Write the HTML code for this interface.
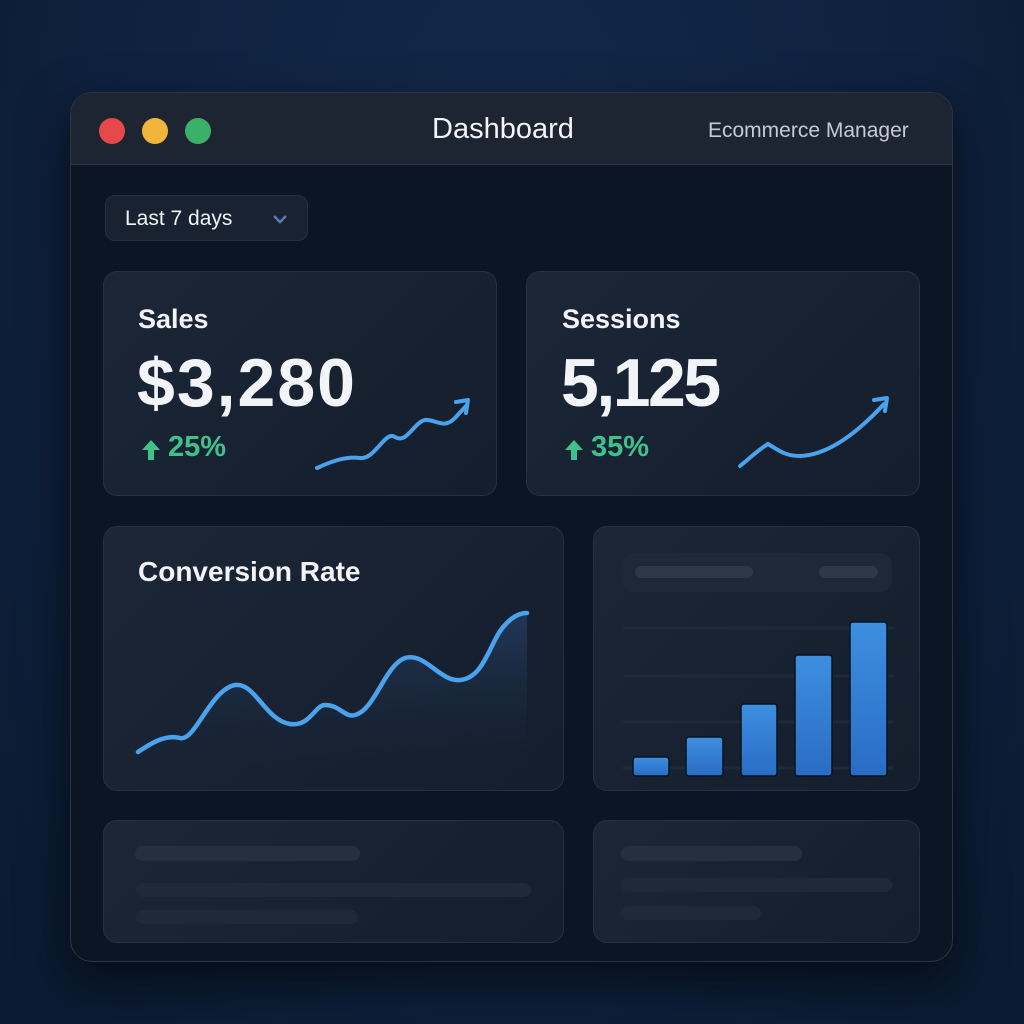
<!DOCTYPE html><html><head><style>
body{margin:0;width:1024px;height:1024px;overflow:hidden;background:radial-gradient(ellipse at 50% 20%,#13294a 0%,#0f2240 50%,#0b1a30 100%);font-family:"Liberation Sans",sans-serif;position:relative}
.a{position:absolute}
.win{left:70px;top:92px;width:883px;height:870px;border-radius:22px;background:#0c1523;box-shadow:0 20px 50px rgba(0,0,0,.6);overflow:hidden;border:1px solid #2a3545;box-sizing:border-box}
.tb{left:0;top:0;width:100%;height:71px;background:#1d2532;border-bottom:1px solid #2b3442}
.dot{width:26px;height:26px;border-radius:50%;top:25px}
.card{background:linear-gradient(135deg,#1b2637,#141e2c);border:1px solid #253143;border-radius:14px;box-sizing:border-box}
.pill{background:#252f3e;border-radius:8px;height:12px}
.t{color:#f2f4f7}
.h{font-weight:bold;font-size:27px}
.big{font-size:68px;font-weight:bold}
.pct{font-size:29px;color:#3fc28a;font-weight:bold}
</style></head><body>
<div class="a win">
<div class="a tb"></div>
<div class="a dot" style="left:28px;background:#e5494b"></div>
<div class="a dot" style="left:71px;background:#f1b53c"></div>
<div class="a dot" style="left:114px;background:#3bb068"></div>
<div class="a t" style="left:361px;top:20px;font-size:29px">Dashboard</div>
<div class="a" style="left:637px;top:26px;font-size:21px;color:#c5cbd4">Ecommerce Manager</div>
</div>
<div class="a card" style="left:105px;top:195px;width:203px;height:46px;border-radius:10px;background:#182231"></div>
<div class="a t" style="left:125px;top:207px;font-size:21px">Last 7 days</div>
<svg class="a" style="left:272px;top:213px" width="16" height="12"><path d="M2 3l6 6 6-6" stroke="#5a7bb0" stroke-width="2.5" fill="none"/></svg>

<div class="a card" style="left:103px;top:271px;width:394px;height:225px"></div>
<div class="a card" style="left:526px;top:271px;width:394px;height:225px"></div>
<div class="a t h" style="left:138px;top:304px">Sales</div>
<div class="a t big" style="left:137px;top:344px;letter-spacing:2px">$3,280</div>
<div class="a pct" style="left:168px;top:431px">25%</div>
<div class="a t h" style="left:562px;top:304px">Sessions</div>
<div class="a t big" style="left:561px;top:344px;letter-spacing:-2.5px">5,125</div>
<div class="a pct" style="left:591px;top:431px">35%</div>
<svg class="a" style="left:0;top:0" width="1024" height="1024">
<g fill="#3fc28a"><path d="M151 440l-9 10h6v10h6v-10h6z"/><path d="M574 440l-9 10h6v10h6v-10h6z"/></g>
<path d="M317 468C330 462 345 456 360 458C375 460 385 430 395 437C408 445 415 418 428 420C440 422 445 428 455 418L466 406" stroke="#4aa3ec" stroke-width="4" fill="none" stroke-linecap="round"/>
<path d="M456 402L468 400L466 413" stroke="#4aa3ec" stroke-width="4" fill="none" stroke-linecap="round" stroke-linejoin="round"/>
</svg>

<div class="a card" style="left:103px;top:526px;width:461px;height:265px"></div>
<div class="a t h" style="left:138px;top:556px;font-size:28px">Conversion Rate</div>
<div class="a card" style="left:593px;top:526px;width:327px;height:265px"></div>
<div class="a" style="left:622px;top:553px;width:270px;height:39px;border-radius:12px;background:#1d2838"></div>
<div class="a pill" style="left:635px;top:566px;width:118px;background:#2d3848"></div>
<div class="a pill" style="left:819px;top:566px;width:59px;background:#2d3848"></div>

<div class="a card" style="left:103px;top:820px;width:461px;height:123px"></div>
<div class="a pill" style="left:135px;top:846px;width:225px;height:15px"></div>
<div class="a pill" style="left:136px;top:883px;width:395px;height:14px;background:#1f2937"></div>
<div class="a pill" style="left:136px;top:910px;width:222px;height:14px;background:#1f2937"></div>
<div class="a card" style="left:593px;top:820px;width:327px;height:123px"></div>
<div class="a pill" style="left:621px;top:846px;width:181px;height:15px"></div>
<div class="a pill" style="left:621px;top:878px;width:271px;height:14px;background:#1f2937"></div>
<div class="a pill" style="left:621px;top:906px;width:140px;height:14px;background:#1f2937"></div>

<svg class="a" style="left:0;top:0" width="1024" height="1024">
<defs><linearGradient id="f" x1="0" y1="0" x2="0" y2="1"><stop offset="0" stop-color="#2a4a7a" stop-opacity=".55"/><stop offset="1" stop-color="#1a2a40" stop-opacity="0"/></linearGradient>
<linearGradient id="b" x1="0" y1="0" x2="0" y2="1"><stop offset="0" stop-color="#3d8fe0"/><stop offset="1" stop-color="#2a6cc4"/></linearGradient></defs>
<path d="M138 752C150 744 165 734 180 738C195 742 210 690 235 685C255 682 265 720 290 724C310 727 315 705 325 705C340 705 345 718 355 715C375 710 385 665 405 658C425 652 440 682 460 680C485 678 490 640 505 625C512 617 520 613 527 613L527 770L138 770Z" fill="url(#f)"/>
<path d="M138 752C150 744 165 734 180 738C195 742 210 690 235 685C255 682 265 720 290 724C310 727 315 705 325 705C340 705 345 718 355 715C375 710 385 665 405 658C425 652 440 682 460 680C485 678 490 640 505 625C512 617 520 613 527 613" stroke="#4aa3ec" stroke-width="4.5" fill="none" stroke-linecap="round"/>
<path d="M740 466C750 458 758 450 768 444C778 450 785 456 800 456C830 455 860 430 884 404" stroke="#4aa3ec" stroke-width="4" fill="none" stroke-linecap="round"/>
<path d="M874 400L887 398L885 411" stroke="#4aa3ec" stroke-width="4" fill="none" stroke-linecap="round" stroke-linejoin="round"/>
<g stroke="#1f2a39" stroke-width="3"><line x1="623" y1="628" x2="893" y2="628"/><line x1="623" y1="676" x2="893" y2="676"/><line x1="623" y1="722" x2="893" y2="722"/><line x1="623" y1="768" x2="893" y2="768"/></g>
<g fill="url(#b)" stroke="#0a1220" stroke-width="1.5">
<rect x="633" y="757" width="36" height="19" rx="3"/>
<rect x="686" y="737" width="37" height="39" rx="3"/>
<rect x="741" y="704" width="36" height="72" rx="3"/>
<rect x="795" y="655" width="37" height="121" rx="3"/>
<rect x="850" y="622" width="37" height="154" rx="3"/>
</g>
</svg>
</body></html>
